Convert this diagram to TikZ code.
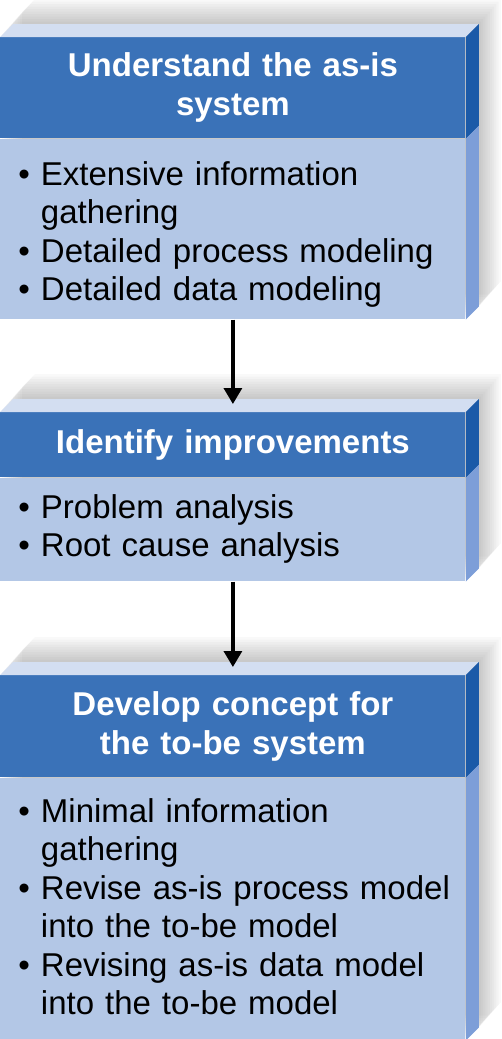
\documentclass[tikz,border=0pt]{standalone}
\usepackage{fontspec}
\setmainfont{Liberation Sans}
\usetikzlibrary{arrows.meta,positioning,calc,backgrounds}
\definecolor{headblue}{HTML}{3A72B8}
\definecolor{headside}{HTML}{1B5AA8}
\definecolor{bodyblue}{HTML}{B3C7E6}
\definecolor{bodyside}{HTML}{7D9ED8}
\definecolor{topface}{HTML}{D3DEF1}
\newcommand{\bul}[1]{\par\leftskip=4.5pt\setbox0\hbox{\textbullet\ }\hangindent=\wd0 \hangafter=1 \noindent\box0 #1\par}
% draws top face, side face and soft shadow of one step
\newcommand{\slab}[2]{%
  \fill[topface] (#1.north west) -- ++(13,-13) -- ($(#1.north east)+(13,-13)$) -- (#1.north east) -- cycle;
  \fill[headside] (#1.north east) -- ++(13,-13) -- ($(#1.south east)+(13,-13)$) -- (#1.south east) -- cycle;
  \fill[bodyside] (#2.north east) -- ($(#2.north east)+(13,-13)$) -- ($(#2.south east)+(13,-13)$) -- (#2.south east) -- cycle;
  \begin{scope}[on background layer]
    \foreach \k in {1,...,10}
      \fill[black,opacity=0.022,transform canvas={shift={(2.2*\k,-2.5*\k)}}]
        (#1.north west) -- ($(#1.north west)+(13,-13)$) -- ($(#1.north east)+(13,-13)$)
        -- ($(#2.south east)+(13,-13)$) -- (#2.south east) -- (#2.south west) -- cycle;
  \end{scope}}

\begin{document}
\begin{tikzpicture}[x=0.5pt,y=-0.5pt,>=Latex,
    head/.style={fill=headblue,text=white,anchor=north west,inner xsep=0pt,inner ysep=0pt,
      text width=232.5pt,align=center,font=\bfseries\fontsize{16.5}{19.5}\selectfont},
    body/.style={fill=bodyblue,text=black,inner xsep=4.5pt,inner ysep=0pt,
      text width=223.5pt,align=left,font=\fontsize{16.5}{19.25}\selectfont},
    flow/.style={line width=1.6pt,-{Triangle[length=8pt,width=9pt]}}]
  \useasboundingbox (0,0) rectangle (502,1039);

  \node[head,minimum height=50.5pt] (head1) at (0,37) {Understand the as-is\\system};
  \node[body,minimum height=90pt,below=0pt of head1] (body1)
    {\bul{Extensive information\newline gathering}\bul{Detailed process modeling}\bul{Detailed data modeling}\kern2pt};
  \slab{head1}{body1}

  \node[head,minimum height=32.5pt] (head2) at (0,412) {Identify improvements};
  \node[body,minimum height=51.5pt,below=0pt of head2] (body2)
    {\bul{Problem analysis}\bul{Root cause analysis}\kern8pt};
  \slab{head2}{body2}

  \node[head,minimum height=51pt] (head3) at (0,675) {Develop concept for\\the to-be system};
  \node[body,minimum height=131pt,below=0pt of head3] (body3)
    {\bul{Minimal information\newline gathering}\bul{Revise as-is process model\newline into the to-be model}\bul{Revising as-is data model\newline into the to-be model}\kern10pt};
  \slab{head3}{body3}

  \coordinate (in2) at ($(head2.north)+(0,-8)$);
  \coordinate (in3) at ($(head3.north)+(0,-8)$);
  \draw[flow] (body1.south) -- (in2);
  \draw[flow] (body2.south) -- (in3);
\end{tikzpicture}
\end{document}
